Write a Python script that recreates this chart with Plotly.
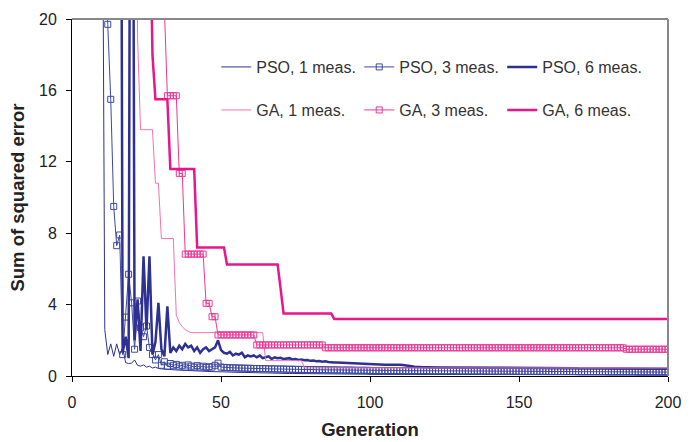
import plotly.graph_objects as go

generation = list(range(0, 201))

pso_1 = ([60] * 10 + [37, 2.6] +
         [1.2, 1.8, 1.1, 1.8, 1.2, 1.6, 0.75, 0.7, 0.72, 0.9, 0.6, 0.55, 0.62, 0.5,
          0.55, 0.45, 0.5, 0.42, 0.4, 0.38, 0.4, 0.36, 0.35, 0.34, 0.33, 0.32, 0.3, 0.3] +
         [0.29, 0.28, 0.28, 0.27, 0.26, 0.26, 0.25, 0.25, 0.24, 0.24] +
         [0.23, 0.23, 0.22, 0.22, 0.21, 0.21, 0.2, 0.2, 0.2, 0.19] +
         [0.19, 0.18, 0.18, 0.18, 0.17, 0.17, 0.17, 0.16, 0.16, 0.16] +
         [0.15, 0.15, 0.15, 0.14, 0.14, 0.14, 0.14, 0.13, 0.13, 0.13] +
         [0.13, 0.12, 0.12, 0.12, 0.12, 0.12, 0.11, 0.11, 0.11, 0.11] +
         [0.11, 0.1, 0.1, 0.1, 0.1, 0.1, 0.1, 0.1, 0.1, 0.1] +
         [0.09] * 30 + [0.08] * 30 + [0.07] * 41)

pso_3 = ([60] * 11 + [30] +
         [19.7, 15.5, 9.5, 7.3, 7.9, 1.2, 3.3, 5.7, 4.1, 1.5, 4.2, 2.7, 2.2, 2.8,
          1.6, 1.2, 0.9, 1.2, 0.6, 0.8, 0.55, 0.7, 0.6, 0.65, 0.55, 0.6, 0.5, 0.62] +
         [0.55, 0.5, 0.58, 0.5, 0.55, 0.48, 0.52, 0.5, 0.6, 0.72] +
         [0.5, 0.48, 0.47, 0.46, 0.46, 0.45, 0.45, 0.44, 0.44, 0.43] +
         [0.43, 0.42, 0.42, 0.41, 0.41, 0.41, 0.4, 0.4, 0.4, 0.39] +
         [0.39, 0.39, 0.38, 0.38, 0.38, 0.37, 0.37, 0.37, 0.36, 0.36] +
         [0.36, 0.36, 0.35, 0.35, 0.35, 0.35, 0.34, 0.34, 0.34, 0.34] +
         [0.33, 0.33, 0.33, 0.33, 0.33, 0.32, 0.32, 0.32, 0.32, 0.32] +
         [0.31] * 10 + [0.3] * 10 + [0.29] * 10 + [0.28] * 10 + [0.27] * 10 +
         [0.26] * 10 + [0.25] * 10 + [0.24] * 10 + [0.23] * 10 + [0.22] * 11)

pso_6 = ([60] * 17 +
         [1.3, 2.2, 1.0, 60, 2.0, 4.3, 1.4, 6.7, 2.6, 6.7, 1.2, 1.9, 4.1, 1.5, 1.1,
          3.9, 1.3, 1.6, 1.4, 1.7, 1.5, 1.8, 1.6, 1.7, 1.4, 1.6, 1.3, 1.5, 1.6, 1.4,
          1.5, 1.6, 2.0] +
         [1.45, 1.3, 1.25, 1.35, 1.15, 1.25, 1.2, 1.3, 1.05, 1.15] +
         [1.1, 1.15, 1.05, 1.15, 1.0, 1.05, 1.1, 0.95, 1.05, 1.0] +
         [1.02, 0.95, 0.98, 1.0, 0.92, 0.95, 0.9, 0.92, 0.88, 0.9] +
         [0.85, 0.87, 0.83, 0.84, 0.8, 0.82, 0.78, 0.79, 0.76, 0.75] +
         [0.74, 0.73, 0.72, 0.71, 0.7, 0.69, 0.68, 0.67, 0.66, 0.65] +
         [0.65, 0.64, 0.64, 0.63, 0.64, 0.63, 0.63, 0.64, 0.62, 0.62, 0.63, 0.62, 0.61, 0.6] +
         [0.55, 0.52, 0.5, 0.5, 0.49, 0.49] +
         [0.48] * 10 + [0.47] * 10 + [0.46] * 10 + [0.45] * 10 + [0.44] * 10 +
         [0.43] * 10 + [0.42] * 10 + [0.41] * 11)

ga_1 = ([40] * 22 + [19] + [13.8] * 5 + [10.8] * 2 + [7.7] * 5 +
        [3.4, 3.0, 2.76, 2.6, 2.5] + [2.43] * 25 + [0.86] * 13 + [0.45] * 123)

ga_3 = ([60] * 31 + [20.6] + [15.7] * 4 + [11.35] * 2 + [6.83] * 7 + [4.07] * 2 +
        [3.32] * 2 + [2.3] * 13 + [1.74] * 23 + [1.58] * 101 + [1.5] * 15)

ga_6 = ([40] * 26 + [28, 18] + [15.5] * 5 + [11.6] * 9 + [7.2] * 10 + [6.25] * 18 +
        [4.9] + [3.5] * 17 + [3.2] * 113)

x_ticks = [0, 50, 100, 150, 200]
y_ticks = [0, 4, 8, 12, 16, 20]

FONT = "Liberation Sans, Arial, sans-serif"
NAVY = "#2E3192"
NAVY_L = "#3D4AA3"
PINK_L = "#F373B0"
PINK_M = "#EC3896"
PINK = "#E8168C"

fig = go.Figure()
fig.add_trace(go.Scatter(x=generation, y=pso_1, name="PSO, 1 meas.", mode="lines",
                         line=dict(color=NAVY, width=1), legend="legend"))
fig.add_trace(go.Scatter(x=generation, y=pso_3, name="PSO, 3 meas.", mode="lines+markers",
                         line=dict(color=NAVY_L, width=1),
                         marker=dict(symbol="square-open", size=6, color=NAVY_L,
                                     line=dict(width=1, color=NAVY_L)),
                         legend="legend"))
fig.add_trace(go.Scatter(x=generation, y=pso_6, name="PSO, 6 meas.", mode="lines",
                         line=dict(color=NAVY, width=2.5), legend="legend"))
fig.add_trace(go.Scatter(x=generation, y=ga_1, name="GA, 1 meas.", mode="lines",
                         line=dict(color=PINK_L, width=1), legend="legend2"))
fig.add_trace(go.Scatter(x=generation, y=ga_3, name="GA, 3 meas.", mode="lines+markers",
                         line=dict(color=PINK_M, width=1),
                         marker=dict(symbol="square-open", size=6, color=PINK_M,
                                     line=dict(width=1, color=PINK_M)),
                         legend="legend2"))
fig.add_trace(go.Scatter(x=generation, y=ga_6, name="GA, 6 meas.", mode="lines",
                         line=dict(color=PINK, width=2.5), legend="legend2"))

legend_common = dict(orientation="h", xanchor="left", yanchor="middle",
                     bgcolor="rgba(0,0,0,0)", font=dict(family=FONT, size=16, color="#333"),
                     entrywidth=98, entrywidthmode="pixels", traceorder="normal")

fig.update_layout(
    width=693, height=442,
    margin=dict(l=72, r=25, t=19, b=66, autoexpand=False),
    paper_bgcolor="white", plot_bgcolor="white",
    font=dict(family=FONT, size=16, color="#222"),
    showlegend=True,
    legend=dict(x=0.2420, y=0.8655, **legend_common),
    legend2=dict(x=0.2420, y=0.745, **legend_common),
    xaxis=dict(range=[0, 200], tickvals=x_ticks, ticks="outside", ticklen=5,
               tickcolor="black", showline=True, linecolor="black", linewidth=1,
               showgrid=False, zeroline=False, ticklabelstandoff=7, automargin=False,
               tickfont=dict(family=FONT, size=16, color="#222"),
               title=dict(text="Generation", standoff=12,
                          font=dict(family=FONT, size=18.5, color="#222", weight="bold"))),
    yaxis=dict(range=[0, 20], tickvals=y_ticks, ticks="outside", ticklen=5,
               tickcolor="black", showline=True, linecolor="black", linewidth=1,
               showgrid=False, zeroline=False, ticklabelstandoff=6, automargin=False,
               tickfont=dict(family=FONT, size=16, color="#222"),
               title=dict(text="Sum of squared error", standoff=9,
                          font=dict(family=FONT, size=18.5, color="#222", weight="bold"))),
    shapes=[
        dict(type="line", xref="paper", yref="paper", x0=0, x1=1, y0=1, y1=1,
             line=dict(color="#888888", width=2)),
        dict(type="line", xref="paper", yref="paper", x0=1, x1=1, y0=0, y1=1,
             line=dict(color="#888888", width=2)),
    ],
)

fig.write_html("out.html")
